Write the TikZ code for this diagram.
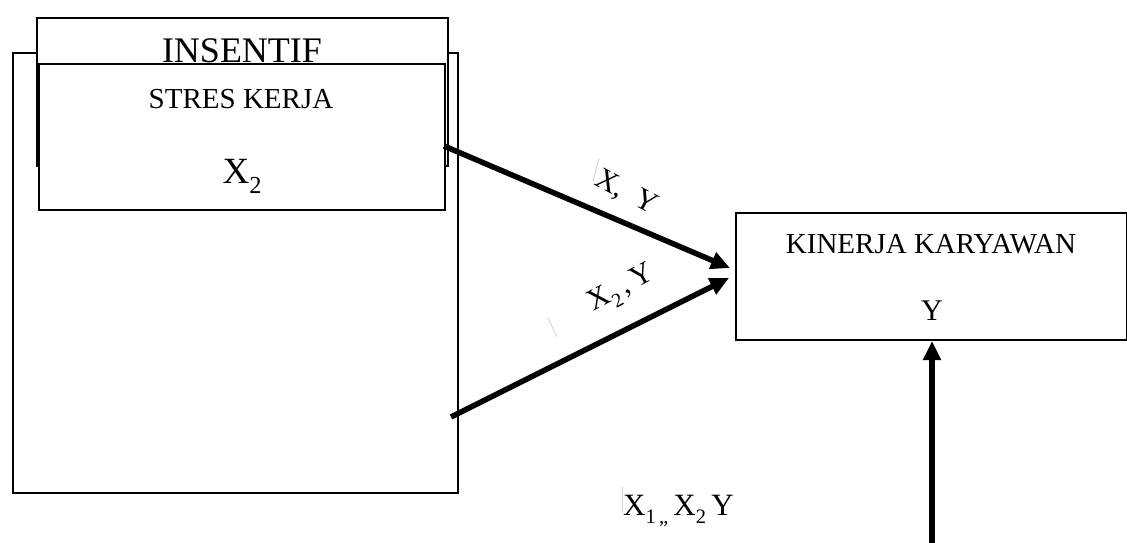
\documentclass[tikz,border=0pt]{standalone}
\usepackage{fontspec}
\setmainfont{Liberation Serif}
\usetikzlibrary{arrows.meta}
\newcommand{\mysub}[1]{\raisebox{-0.28em}{\scalebox{0.66}{#1}}}
\tikzset{
  box/.style={draw=black, line width=2pt, fill=white, anchor=north west, inner sep=0pt, rectangle},
  lbl/.style={inner sep=0pt, text=black},
  arr/.style={line width=5.5pt, -{Triangle[length=19pt,width=17pt]}},
  faint/.style={draw=black!18, line width=0.8pt}
}
\begin{document}
\begin{tikzpicture}[x=1pt,y=-1pt]
\useasboundingbox (0,0) rectangle (1127,543);
% outer box
\node[box, minimum width=445pt, minimum height=440pt] (outer) at (12,52) {};
% INSENTIF box
\node[box, minimum width=411pt, minimum height=148pt] (ins) at (36,17) {};
\node[lbl, anchor=base, font=\fontsize{36}{40}\selectfont] (insT) at (242,63) {INSENTIF};
% STRES KERJA box
\node[box, minimum width=406pt, minimum height=146pt] (stres) at (38,63) {};
\node[lbl, anchor=base, font=\fontsize{29}{32}\selectfont] (stresT) at (241,108) {STRES KERJA};
\node[lbl, anchor=base, font=\fontsize{37}{40}\selectfont] (x2T) at (242,183) {X\mysub{2}};
% KINERJA box
\node[box, minimum width=391pt, minimum height=127pt] (kin) at (735,212) {};
\node[lbl, anchor=base, font=\fontsize{29}{32}\selectfont] (kinT) at (931,253) {KINERJA KARYAWAN};
\node[lbl, anchor=base, font=\fontsize{30}{32}\selectfont] (yT) at (932,320) {Y};
% connector endpoints
\coordinate (a1s) at (444,146);
\coordinate (a1e) at (730,268);
\coordinate (a2s) at (451,417);
\coordinate (a2e) at (729,278);
\coordinate (a3s) at (932,543);
\draw[arr] (a1s) -- (a1e);
\draw[arr] (a2s) -- (a2e);
\draw[arr] (a3s) -- (kin.south -| a3s);
% labels
\node[lbl, rotate=-28, font=\fontsize{30}{32}\selectfont] (l1) at (626,193) {X,\,\,\,Y};
\node[lbl, rotate=28, font=\fontsize{30}{32}\selectfont] (l2) at (622,290) {X\mysub{2}\,,\,Y};
\node[lbl, anchor=base west, font=\fontsize{31}{32}\selectfont] (l3) at (623,515) {X\mysub{1\,,,}\,X\mysub{2}\,Y};
% faint marks
\draw[faint] (599,158) -- (593,181);
\draw[faint] (548,318) -- (557,337);
\draw[faint] (622,487) -- (622,513);
\end{tikzpicture}
\end{document}
